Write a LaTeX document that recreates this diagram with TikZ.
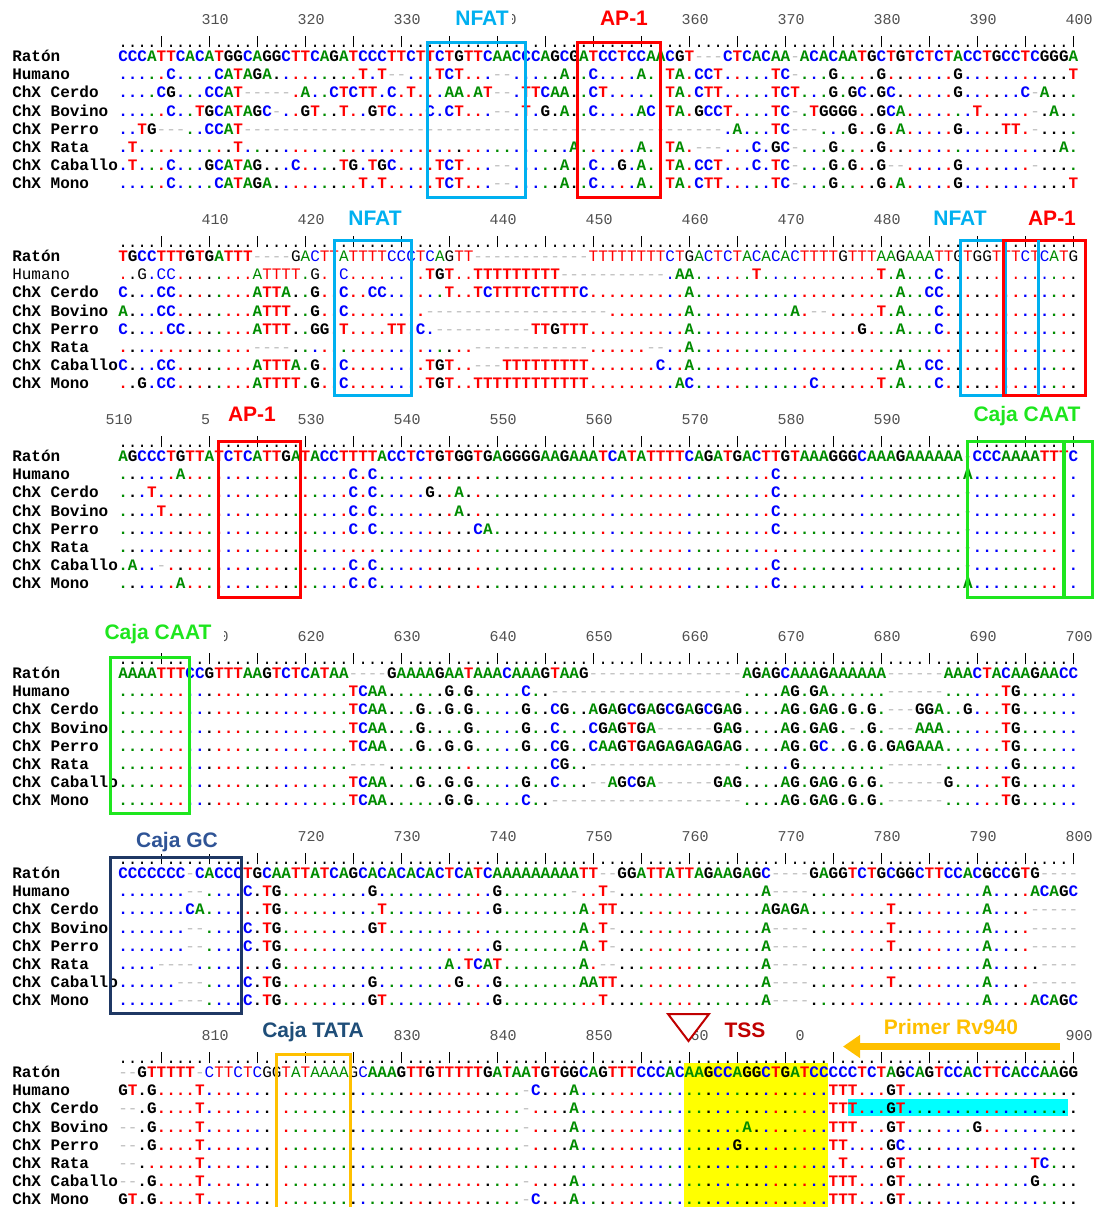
\documentclass[tikz,border=0pt]{standalone}
\usepackage{fontspec}
\setmainfont{Liberation Sans}
\newfontfamily\seqfont{Liberation Mono}
\usetikzlibrary{arrows.meta}
\definecolor{ntA}{RGB}{0,140,0}
\definecolor{ntC}{RGB}{0,0,255}
\definecolor{ntG}{RGB}{0,0,0}
\definecolor{ntT}{RGB}{255,0,0}
\definecolor{gapc}{RGB}{190,190,190}
\definecolor{numgray}{RGB}{80,80,80}
\definecolor{nfatc}{RGB}{0,176,240}
\definecolor{apred}{RGB}{255,0,0}
\definecolor{caatg}{RGB}{30,230,30}
\definecolor{gcnavy}{RGB}{31,56,100}
\definecolor{gctext}{RGB}{47,84,150}
\definecolor{tatatext}{RGB}{31,78,121}
\definecolor{tataorange}{RGB}{255,192,0}
\definecolor{tssred}{RGB}{192,0,0}
\definecolor{hlyellow}{RGB}{255,255,0}
\definecolor{hlcyan}{RGB}{0,255,255}

\ExplSyntaxOn
\seq_new:N \g_rs_ref_seq
\int_new:N \l_rs_col_int
\tl_new:N \l_rs_ref_tl
\tl_new:N \l_rs_row_tl
\bool_new:N \l_rs_thin_bool
\cs_new:Npn \Dt #1 { \prg_replicate:nn {#1} {.} }
\cs_new:Npn \Ds #1 { \prg_replicate:nn {#1} {-} }
\cs_new_protected:Npn \rs_setcolor:n #1
 {
  \str_case:nnF {#1}
   {
    {A}{\color{ntA}} {a}{\color{ntA}}
    {C}{\color{ntC}} {c}{\color{ntC}}
    {G}{\color{ntG}} {g}{\color{ntG}}
    {T}{\color{ntT}} {t}{\color{ntT}}
   }
   {\color{ntG}}
 }
\cs_new_protected:Npn \rs_char:nn #1#2
 {
  \str_case:nnF {#1}
   {
    {A}{\color{ntA}\bfseries A}
    {C}{\color{ntC}\bfseries C}
    {G}{\color{ntG}\bfseries G}
    {T}{\color{ntT}\bfseries T}
    {a}{\color{ntA}\mdseries A}
    {c}{\color{ntC}\mdseries C}
    {g}{\color{ntG}\mdseries G}
    {t}{\color{ntT}\mdseries T}
    {.}{\rs_setcolor:n {#2}\bool_if:NTF \l_rs_thin_bool {\mdseries}{\bfseries}.}
    {-}{\color{gapc}\mdseries -}
   }
   {#1}
 }
\cs_generate_variant:Nn \rs_char:nn {nV}
\NewDocumentCommand \SetRef { m }
 {
  \seq_gclear:N \g_rs_ref_seq
  \tl_set:Nx \l_rs_row_tl {#1}
  \tl_map_inline:Nn \l_rs_row_tl { \seq_gput_right:Nn \g_rs_ref_seq {##1} }
 }
\NewDocumentCommand \SeqRow { s m }
 {
  \IfBooleanTF {#1} { \bool_set_true:N \l_rs_thin_bool } { \bool_set_false:N \l_rs_thin_bool }
  \int_zero:N \l_rs_col_int
  \tl_set:Nx \l_rs_row_tl {#2}
  \tl_map_inline:Nn \l_rs_row_tl
   {
    \int_incr:N \l_rs_col_int
    \tl_set:Nx \l_rs_ref_tl { \seq_item:Nn \g_rs_ref_seq { \l_rs_col_int } }
    \makebox[7.2pt][c]{ \rs_char:nV {##1} \l_rs_ref_tl }
   }
 }
\NewDocumentCommand \RulerText {}
 { \prg_replicate:nn {20} { \makebox[7.2pt][c]{.}\makebox[7.2pt][c]{.}\makebox[7.2pt][c]{.}\makebox[7.2pt][c]{.}\makebox[7.2pt][c]{\rule[-0.3pt]{0.75pt}{8.2pt}} } }
\ExplSyntaxOff

\def\RefA{CCCATTCACATGGCAGGCTTCAGATCCCTTCTTCTGTTCAACCCAGCGATCCTCCAACGT---CTCACAA-ACACAATGCTGTCTCTACCTGCCTCGGGA}
\def\RefB{TGCCTTTGTGATTT----gacttattttccctcagtt\Ds{12}ttttttttctgactctacacacttttgtttaagaaattgtggtttctcatg}
\def\RefC{AGCCCTGTTATCTCATTGATACCTTTTACCTCTGTGGTGAGGGGAAGAAATCATATTTTCAGATGACTTGTAAAGGGCAAAGAAAAAA-CCCAAAATTTC}
\def\RefD{AAAATTTCCGTTTAAGTCTCATAA----GAAAAGAATAAACAAAGTAAG\Ds{16}AGAGCAAAGAAAAAA------AAACTACAAGAACC}
\def\RefE{CCCCCCC-CACCCTGCAATTATCAGCACACACACTCATCAAAAAAAAATT--GGATTATTAGAAGAGC----GAGGTCTGCGGCTTCCACGCCGTG----}
\def\RefF{--GTTTTT-cttctcggtataaaagcAAAGTTGTTTTTGATAATGTGGCAGTTTCCCACAAGCCAGGCTGATCCCCCTCTAGCAGTCCACTTCACCAAGG}

\tikzset{
  seqrow/.style={anchor=base west, inner sep=0pt, font=\seqfont\fontsize{12pt}{12pt}\selectfont},
  seqname/.style={anchor=base west, inner sep=0pt, font=\seqfont\bfseries\fontsize{12pt}{12pt}\selectfont},
  seqnamethin/.style={anchor=base west, inner sep=0pt, font=\seqfont\mdseries\fontsize{12pt}{12pt}\selectfont},
  rulerrow/.style={anchor=base west, inner sep=0pt, font=\seqfont\fontsize{12pt}{12pt}\selectfont},
  numlabel/.style={anchor=base, inner sep=0pt, text=numgray, font=\seqfont\fontsize{11.25pt}{12pt}\selectfont},
  motif/.style={anchor=base, inner ysep=1.5pt, inner xsep=2pt, fill=white, font=\bfseries\fontsize{15.75pt}{16pt}\selectfont},
  motifbox/.style={line width=2.25pt},
}

% #1 block id, #2 yR, #3 style of the Humano name
\newcommand\Names[3]{%
  \node[seqname] (nm#1-0) at (12,{#2+6.5}) {Ratón};
  \node[#3] (nm#1-1) at (12,{#2+6.5+18.2}) {Humano};
  \foreach \nm [count=\i from 2] in {ChX Cerdo,ChX Bovino,ChX Perro,ChX Rata,ChX Caballo,ChX Mono}
    \node[seqname] (nm#1-\i) at (12,{#2+6.5+18.2*\i}) {\nm};
}
\newcommand\RowY[2]{{#1+6.5+18.2*#2}}

\begin{document}
\begin{tikzpicture}[x=0.75pt,y=-0.75pt]
\useasboundingbox (0,0) rectangle (1097,1207);
\fill[white] (0,0) rectangle (1097,1207);
% highlights (behind text)
\fill[hlyellow] (684,1063) rectangle (828,1207);
\fill[hlcyan] (848,1099) rectangle (1068,1116);

% ================= Block 1 =================
\def\yR{55}
\SetRef{\RefA}
\Names{1}{55}{seqname}
\node[rulerrow] (ru1) at (118,{\yR-8}) {\RulerText};
\foreach \k/\t in {10/310,20/320,30/330,60/360,70/370,80/380,90/390,100/400}
  \node[numlabel] (num1-\k) at ({118+(\k-0.5)*9.6+6},{\yR-30.5}) {\t};
\begin{scope}
  \clip (512.5,0) rectangle (522,40);
  \node[numlabel] (num1-40) at ({118+39.5*9.6+6},{\yR-30.5}) {340};
\end{scope}
\node[seqrow] (s1-0) at (118,\RowY{\yR}{0}) {\SeqRow{\RefA}};
\node[seqrow] (s1-1) at (118,\RowY{\yR}{1}) {\SeqRow{\Dt{5}C\Dt{4}CATAGA\Dt{9}T.T--...TCT...--\Dt{5}A..C\Dt{4}A..TA.CCT\Dt{5}TC-...G\Dt{4}G\Dt{7}G\Dt{11}T}};
\node[seqrow] (s1-2) at (118,\RowY{\yR}{2}) {\SeqRow{\Dt{4}CG...CCAT-----.A..CTCTT.C.T...AA.AT--.TTCAA..CT\Dt{6}TA.CTT\Dt{5}TCT...G.GC.GC\Dt{6}G\Dt{6}C-A...}};
\node[seqrow] (s1-3) at (118,\RowY{\yR}{3}) {\SeqRow{\Dt{5}C..TGCATAGC-..GT..T..GTC...C.CT...--.T.G.A..C\Dt{4}AC.TA.GCCT\Dt{4}TC-.TGGGG..GCA\Dt{7}T\Dt{5}-.A..}};
\node[seqrow] (s1-4) at (118,\RowY{\yR}{4}) {\SeqRow{..TG---..CCAT\Ds{50}.A...TC---...G..G.A\Dt{5}G\Dt{4}TT.-....}};
\node[seqrow] (s1-5) at (118,\RowY{\yR}{5}) {\SeqRow{.T\Dt{10}T\Dt{34}A\Dt{6}A..TA.---...C.GC-...G\Dt{4}G\Dt{18}A.}};
\node[seqrow] (s1-6) at (118,\RowY{\yR}{6}) {\SeqRow{.T...C...GCATAG...C....TG.TGC....TCT...--\Dt{5}A..C..G.A..TA.CCT...C.TC-...G.G..G--\Dt{5}G\Dt{7}-....}};
\node[seqrow] (s1-7) at (118,\RowY{\yR}{7}) {\SeqRow{\Dt{5}C\Dt{4}CATAGA\Dt{9}T.T\Dt{5}TCT...--\Dt{5}A..C\Dt{4}A..TA.CTT\Dt{5}TC-...G\Dt{4}G.A\Dt{5}G\Dt{11}T}};

% ================= Block 2 =================
\def\yR{255}
\SetRef{\RefB}
\Names{2}{255}{seqnamethin}
\node[rulerrow] (ru2) at (118,{\yR-8}) {\RulerText};
\foreach \k/\t in {10/410,20/420,40/440,50/450,60/460,70/470,80/480}
  \node[numlabel] (num2-\k) at ({118+(\k-0.5)*9.6+6},{\yR-30.5}) {\t};
\node[seqrow] (s2-0) at (118,\RowY{\yR}{0}) {\SeqRow{\RefB}};
\node[seqrow] (s2-1) at (118,\RowY{\yR}{1}) {\SeqRow*{..g.cc\Dt{8}atttt.g..c\Dt{8}TGT..TTTTTTTTT\Ds{11}.AA\Dt{6}T\Dt{12}T.A...C\Dt{14}}};
\node[seqrow] (s2-2) at (118,\RowY{\yR}{2}) {\SeqRow{C...CC\Dt{8}ATTA..G..C..CC\Dt{6}T..TCTTTTCTTTTC\Dt{10}A\Dt{21}A..CC\Dt{14}}};
\node[seqrow] (s2-3) at (118,\RowY{\yR}{3}) {\SeqRow{A...CC\Dt{8}ATTT..G..C\Dt{8}\Ds{19}\Dt{8}A\Dt{10}A.--\Dt{5}T.A...C\Dt{14}}};
\node[seqrow] (s2-4) at (118,\RowY{\yR}{4}) {\SeqRow{C....CC\Dt{7}ATTT..GG.T....TT.C.\Ds{10}TTGTTT\Dt{10}A\Dt{17}G...A...C\Dt{14}}};
\node[seqrow] (s2-5) at (118,\RowY{\yR}{5}) {\SeqRow{\Dt{14}----\Dt{19}\Ds{12}\Dt{6}--..A\Dt{40}}};
\node[seqrow] (s2-6) at (118,\RowY{\yR}{6}) {\SeqRow{C...CC\Dt{8}ATTTA.G..C\Dt{8}TGT..---TTTTTTTTT\Dt{7}C..A\Dt{21}A..CC\Dt{14}}};
\node[seqrow] (s2-7) at (118,\RowY{\yR}{7}) {\SeqRow{..G.CC\Dt{8}ATTTT.G..C\Dt{8}TGT..TTTTTTTTTTTT\Dt{9}AC\Dt{12}C\Dt{6}T.A...C\Dt{14}}};

% ================= Block 3 =================
\def\yR{455}
\SetRef{\RefC}
\Names{3}{455}{seqname}
\node[rulerrow] (ru3) at (118,{\yR-8}) {\RulerText};
\foreach \k/\t in {0/510,20/530,30/540,40/550,50/560,60/570,70/580,80/590}
  \node[numlabel] (num3-\k) at ({118+(\k-0.5)*9.6+6},{\yR-30.5}) {\t};
\node[numlabel] (num3-10) at (205.6,{\yR-30.5}) {5};
\node[seqrow] (s3-0) at (118,\RowY{\yR}{0}) {\SeqRow{\RefC}};
\node[seqrow] (s3-1) at (118,\RowY{\yR}{1}) {\SeqRow{\Dt{6}A\Dt{17}C.C\Dt{41}C\Dt{19}A\Dt{11}}};
\node[seqrow] (s3-2) at (118,\RowY{\yR}{2}) {\SeqRow{\Dt{3}T\Dt{20}C.C\Dt{5}G..A\Dt{32}C\Dt{19}-\Dt{11}}};
\node[seqrow] (s3-3) at (118,\RowY{\yR}{3}) {\SeqRow{\Dt{4}T\Dt{19}C.C\Dt{8}A\Dt{32}C\Dt{19}-\Dt{11}}};
\node[seqrow] (s3-4) at (118,\RowY{\yR}{4}) {\SeqRow{\Dt{24}C.C\Dt{10}CA\Dt{29}C\Dt{19}-\Dt{11}}};
\node[seqrow] (s3-5) at (118,\RowY{\yR}{5}) {\SeqRow{\Dt{88}-\Dt{11}}};
\node[seqrow] (s3-6) at (118,\RowY{\yR}{6}) {\SeqRow{.A..-\Dt{19}C.C\Dt{41}C\Dt{19}-\Dt{11}}};
\node[seqrow] (s3-7) at (118,\RowY{\yR}{7}) {\SeqRow{\Dt{6}A\Dt{17}C.C\Dt{41}C\Dt{19}A\Dt{11}}};

% ================= Block 4 =================
\def\yR{672}
\SetRef{\RefD}
\Names{4}{672}{seqname}
\node[rulerrow] (ru4) at (118,{\yR-8}) {\RulerText};
\foreach \k/\t in {20/620,30/630,40/640,50/650,60/660,70/670,80/680,90/690,100/700}
  \node[numlabel] (num4-\k) at ({118+(\k-0.5)*9.6+6},{\yR-30.5}) {\t};
\begin{scope}
  \clip (224,600) rectangle (235,650);
  \node[numlabel] (num4-10) at ({118+9.5*9.6+6},{\yR-30.5}) {610};
\end{scope}
\node[seqrow] (s4-0) at (118,\RowY{\yR}{0}) {\SeqRow{\RefD}};
\node[seqrow] (s4-1) at (118,\RowY{\yR}{1}) {\SeqRow{\Dt{24}TCAA\Dt{6}G.G\Dt{5}C..\Ds{20}....AG.GA\Dt{6}------\Dt{6}TG\Dt{6}}};
\node[seqrow] (s4-2) at (118,\RowY{\yR}{2}) {\SeqRow{\Dt{24}TCAA...G..G.G\Dt{5}G..CG..AGAGCGAGCGAGCGAG....AG.GAG.G.G.---GGA..G...TG\Dt{6}}};
\node[seqrow] (s4-3) at (118,\RowY{\yR}{3}) {\SeqRow{\Dt{24}TCAA...G....G\Dt{5}G..C...CGAGTGA------GAG....AG.GAG.-.G.---AAA\Dt{6}TG\Dt{6}}};
\node[seqrow] (s4-4) at (118,\RowY{\yR}{4}) {\SeqRow{\Dt{24}TCAA...G..G.G\Dt{5}G..CG..CAAGTGAGAGAGAGAG....AG.GC..G.G.GAGAAA\Dt{6}TG\Dt{6}}};
\node[seqrow] (s4-5) at (118,\RowY{\yR}{5}) {\SeqRow{\Dt{24}----\Dt{17}CG..\Ds{16}\Dt{5}G\Dt{9}------\Dt{7}G\Dt{6}}};
\node[seqrow] (s4-6) at (118,\RowY{\yR}{6}) {\SeqRow{\Dt{24}TCAA...G..G.G\Dt{5}G..C...--AGCGA------GAG....AG.GAG.G.G.------G\Dt{5}TG\Dt{6}}};
\node[seqrow] (s4-7) at (118,\RowY{\yR}{7}) {\SeqRow{\Dt{24}TCAA\Dt{6}G.G\Dt{5}C..\Ds{20}....AG.GAG.G.G.------\Dt{6}TG\Dt{6}}};

% ================= Block 5 =================
\def\yR{872}
\SetRef{\RefE}
\Names{5}{872}{seqname}
\node[rulerrow] (ru5) at (118,{\yR-8}) {\RulerText};
\foreach \k/\t in {20/720,30/730,40/740,50/750,60/760,70/770,80/780,90/790,100/800}
  \node[numlabel] (num5-\k) at ({118+(\k-0.5)*9.6+6},{\yR-30.5}) {\t};
\node[seqrow] (s5-0) at (118,\RowY{\yR}{0}) {\SeqRow{\RefE}};
\node[seqrow] (s5-1) at (118,\RowY{\yR}{1}) {\SeqRow{\Dt{7}--....C.TG\Dt{9}G\Dt{12}G\Dt{7}-..T-\Dt{15}A----\Dt{18}A....ACAGC}};
\node[seqrow] (s5-2) at (118,\RowY{\yR}{2}) {\SeqRow{\Dt{7}CA\Dt{6}TG\Dt{10}T\Dt{11}G\Dt{8}A.TT\Dt{15}AGAGA\Dt{8}T\Dt{9}A....-----}};
\node[seqrow] (s5-3) at (118,\RowY{\yR}{3}) {\SeqRow{\Dt{7}--....C.TG\Dt{9}GT\Dt{20}A.T-\Dt{15}A----\Dt{8}T\Dt{9}A....-----}};
\node[seqrow] (s5-4) at (118,\RowY{\yR}{4}) {\SeqRow{\Dt{7}--....C.TG\Dt{22}G\Dt{8}A.T-\Dt{15}A----\Dt{8}T\Dt{9}A....-----}};
\node[seqrow] (s5-5) at (118,\RowY{\yR}{5}) {\SeqRow{....----\Dt{8}G\Dt{17}A.TCAT\Dt{8}A.--\Dt{15}A----\Dt{18}A.....----}};
\node[seqrow] (s5-6) at (118,\RowY{\yR}{6}) {\SeqRow{\Dt{6}---....C.TG\Dt{9}G\Dt{8}G...G\Dt{8}AATT\Dt{15}A----\Dt{8}T\Dt{9}A....-----}};
\node[seqrow] (s5-7) at (118,\RowY{\yR}{7}) {\SeqRow{\Dt{6}---....C.TG\Dt{9}GT\Dt{11}G\Dt{10}T.\Dt{15}A----\Dt{18}A....ACAGC}};

% ================= Block 6 =================
\def\yR{1071}
\SetRef{\RefF}
\Names{6}{1071}{seqname}
\node[rulerrow] (ru6) at (118,{\yR-8}) {\RulerText};
\foreach \k/\t in {10/810,30/830,40/840,50/850,100/900}
  \node[numlabel] (num6-\k) at ({118+(\k-0.5)*9.6+6},{\yR-30.5}) {\t};
\node[numlabel] (num6-60) at (699.7,{\yR-30.5}) {60};
\node[numlabel] (num6-70) at (800.2,{\yR-30.5}) {0};
\node[seqrow] (s6-0) at (118,\RowY{\yR}{0}) {\SeqRow{\RefF}};
\node[seqrow] (s6-1) at (118,\RowY{\yR}{1}) {\SeqRow{GT.G....T\Dt{33}-C...A\Dt{26}TTT...GT\Dt{18}}};
\node[seqrow] (s6-2) at (118,\RowY{\yR}{2}) {\SeqRow{--.G....T\Dt{33}-....A\Dt{26}TTT...GT\Dt{18}}};
\node[seqrow] (s6-3) at (118,\RowY{\yR}{3}) {\SeqRow{--.G....T\Dt{33}-....A\Dt{17}A\Dt{8}TTT...GT\Dt{7}G\Dt{10}}};
\node[seqrow] (s6-4) at (118,\RowY{\yR}{4}) {\SeqRow{--.G....T\Dt{33}-....A\Dt{16}G\Dt{9}TT....GC\Dt{18}}};
\node[seqrow] (s6-5) at (118,\RowY{\yR}{5}) {\SeqRow{--\Dt{6}T\Dt{66}T....GT\Dt{13}TC...}};
\node[seqrow] (s6-6) at (118,\RowY{\yR}{6}) {\SeqRow{--.G....T\Dt{33}-....A\Dt{26}TTT...GT\Dt{13}G....}};
\node[seqrow] (s6-7) at (118,\RowY{\yR}{7}) {\SeqRow{GT.G....T\Dt{33}-C...A\Dt{26}TTT...GT\Dt{18}}};

% ================= motif boxes =================
\draw[motifbox, nfatc] (427,42) rectangle (525,197);
\draw[motifbox, apred] (577,42) rectangle (660,197);
\draw[motifbox, nfatc] (334,240) rectangle (411,395);
\draw[motifbox, nfatc] (960,240) rectangle (1005,395);
\draw[motifbox, apred] (1003,240) rectangle (1085,395);
\draw[motifbox, nfatc] (1038,240) -- (1038,395);
\draw[motifbox, apred] (218,441) rectangle (300,597);
\draw[motifbox, caatg] (967,441) rectangle (1064,597);
\draw[motifbox, caatg] (1063,441) rectangle (1092,597);
\draw[motifbox, caatg] (110,657) rectangle (189,813);
\draw[motifbox, gcnavy] (110,857) rectangle (241,1013);
\draw[motifbox, tataorange] (276,1210) -- (276,1054) -- (350,1054) -- (350,1210);

% ================= labels =================
\node[motif, text=nfatc] (lbl-nfat1) at (482,25.5) {NFAT};
\node[motif, text=apred] (lbl-ap1) at (624,25.5) {AP-1};
\node[motif, text=nfatc] (lbl-nfat2) at (375,225.5) {NFAT};
\node[motif, text=nfatc] (lbl-nfat3) at (960,225.5) {NFAT};
\node[motif, text=apred] (lbl-ap2) at (1052,225.5) {AP-1};
\node[motif, text=apred] (lbl-ap3) at (252,421.5) {AP-1};
\node[motif, text=caatg] (lbl-caat1) at (1027,421.5) {Caja CAAT};
\node[motif, text=caatg] (lbl-caat2) at (158,639.5) {Caja CAAT};
\node[motif, text=gctext] (lbl-gc) at (177,847.5) {Caja GC};
\node[motif, text=tatatext] (lbl-tata) at (313,1037.5) {Caja TATA};
\node[motif, text=tssred] (lbl-tss) at (745,1037) {TSS};
\node[motif, text=tataorange] (lbl-primer) at (951,1034) {Primer Rv940};

% TSS marker
\draw[tssred, line width=1.5pt, fill=white] (668,1014) -- (709,1014) -- (688.5,1041) -- cycle;
% primer arrow
\coordinate (prS) at (1060,1046.5);
\coordinate (prE) at (843,1046.5);
\draw[tataorange, line width=5pt, -{Triangle[length=12.75pt, width=16.5pt]}] (prS) -- (prE);
\end{tikzpicture}
\end{document}
